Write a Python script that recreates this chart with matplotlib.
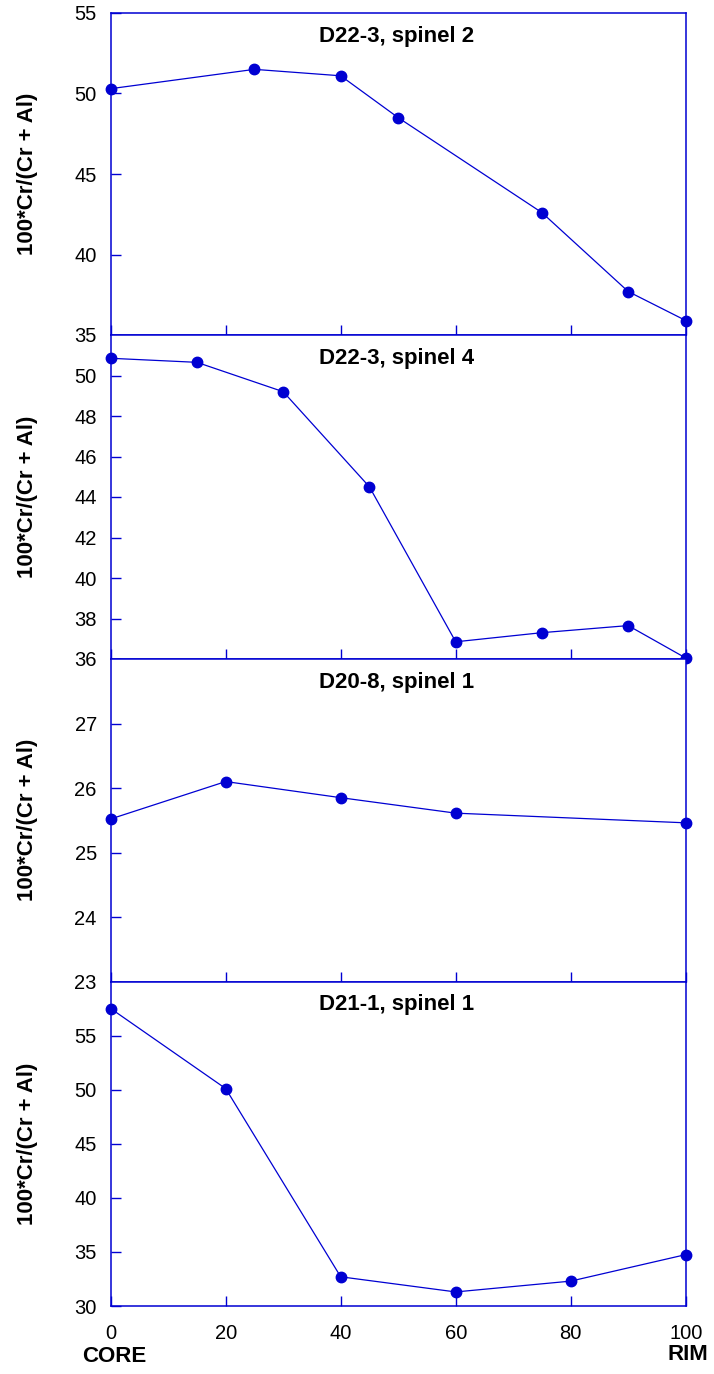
import matplotlib
matplotlib.use('Agg')
import matplotlib.pyplot as plt

plt.rcParams['font.family'] = ['Liberation Sans', 'DejaVu Sans']

BLUE = '#0000D2'

# data, one panel per spinel grain (distance core -> rim)
TITLES = ['D22-3, spinel 2', 'D22-3, spinel 4', 'D20-8, spinel 1', 'D21-1, spinel 1']
X_S2 = [0, 25, 40, 50, 75, 90, 100]
Y_S2 = [50.3, 51.5, 51.1, 48.5, 42.6, 37.7, 35.9]
X_S4 = [0, 15, 30, 45, 60, 75, 90, 100]
Y_S4 = [50.85, 50.65, 49.2, 44.5, 36.85, 37.3, 37.65, 36.05]
X_D20 = [0, 20, 40, 60, 100]
Y_D20 = [25.52, 26.1, 25.85, 25.61, 25.46]
X_D21 = [0, 20, 40, 60, 80, 100]
Y_D21 = [57.5, 50.1, 32.7, 31.3, 32.3, 34.75]

YLIMS = [(35, 55), (36, 52), (23, 28), (30, 60)]
YTICKS = [[35, 40, 45, 50, 55],
          [36, 38, 40, 42, 44, 46, 48, 50],
          [23, 24, 25, 26, 27],
          [30, 35, 40, 45, 50, 55]]
XTICKS = [0, 20, 40, 60, 80, 100]

XS = [X_S2, X_S4, X_D20, X_D21]
YS = [Y_S2, Y_S4, Y_D20, Y_D21]

FIG = plt.figure(figsize=(7.14, 13.74), dpi=100)
W, H = 714.0, 1374.0
LEFT, RIGHT = 110.7, 685.7
EDGES = [13, 335, 659, 981.5, 1306]

for i in range(4):
    top, bot = EDGES[i], EDGES[i + 1]
    AX = FIG.add_axes([LEFT / W, 1 - bot / H, (RIGHT - LEFT) / W, (bot - top) / H])
    AX.plot(XS[i], YS[i], '-o', color=BLUE, lw=0.9, ms=7.5, clip_on=False, zorder=5)
    AX.set_xlim(0, 100)
    AX.set_ylim(*YLIMS[i])
    AX.set_yticks(YTICKS[i])
    AX.set_xticks(XTICKS)
    for sp in AX.spines.values():
        sp.set_color(BLUE)
        sp.set_linewidth(1.1)
    AX.tick_params(direction='in', length=7.5, width=1.0, color=BLUE,
                   labelsize=14.5)
    AX.tick_params(axis='y', pad=10)
    if i < 3:
        AX.tick_params(axis='x', labelbottom=False)
    else:
        AX.tick_params(axis='x', pad=13)
    AX.set_ylabel('100*Cr/(Cr + Al)', fontsize=16, fontweight='bold')
    AX.yaxis.set_label_coords(-0.126, 0.5)
    AX.text(0.497, 0.928, TITLES[i], transform=AX.transAxes, ha='center', va='center',
            fontsize=16, fontweight='bold')

FIG.text(114 / W, 1 - 1357 / H, 'CORE', ha='center', va='center', fontsize=16, fontweight='bold')
FIG.text(688 / W, 1 - 1355 / H, 'RIM', ha='center', va='center', fontsize=16, fontweight='bold')

plt.savefig('out.png', dpi=100)
